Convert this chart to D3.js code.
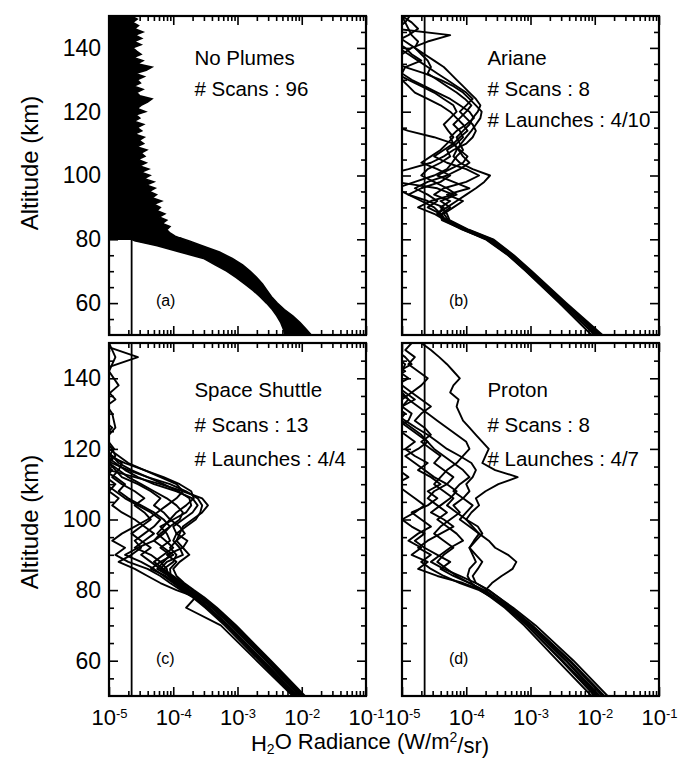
<!DOCTYPE html>
<html><head><meta charset="utf-8">
<script src="https://cdn.jsdelivr.net/npm/d3@7"></script>
<style>
html,body{margin:0;padding:0;background:#fff;}
svg text{font-family:"Liberation Sans",Arial,Helvetica,sans-serif;fill:#000;}
</style></head><body>
<svg id="chart" width="680" height="761"></svg>
<script>
// ---------------- data ----------------
const xTickExponents = [-5, -4, -3, -2, -1];          // tick labels 10^-5 ... 10^-1
const yTickLabels = [60, 80, 100, 120, 140];
const noiseLevel = 2.25e-5;                              // vertical reference line (W/m2/sr)
const panelNames = ["No Plumes", "Ariane", "Space Shuttle", "Proton"];
const panelScans = ["# Scans : 96", "# Scans : 8", "# Scans : 13", "# Scans : 8"];
const panelLaunches = [null, "# Launches : 4/10", "# Launches : 4/4", "# Launches : 4/7"];
const panelTags = ["(a)", "(b)", "(c)", "(d)"];

// all radiance values below are log10(W/m2/sr)
// (a) No plumes: envelope of the 96 scans
const noPlumeBandAlt  = [50, 52, 54, 56, 58, 60, 62, 64, 66, 68, 70, 72, 74, 76, 78, 79.5, 80.5];
const noPlumeBandLow  = [-2.26, -2.29, -2.33, -2.39, -2.46, -2.55, -2.65, -2.76, -2.89, -3.02, -3.17, -3.35, -3.53, -3.9, -4.25, -4.6, -4.7];
const noPlumeBandHigh = [-1.85, -1.94, -2.03, -2.14, -2.27, -2.38, -2.47, -2.54, -2.61, -2.7, -2.8, -2.92, -3.08, -3.28, -3.55, -3.75, -3.9];
const noPlumeTopAlt = [80, 81, 82, 83, 84, 85, 86, 87, 88, 89, 90, 91, 92, 93, 94, 95, 96, 97, 98, 99,
  100, 101, 102, 103, 104, 105, 106, 107, 108, 109, 110, 111, 112, 113, 114, 115, 116, 117, 118, 119,
  120, 121, 122, 123, 124, 125, 126, 127, 128, 129, 130, 131, 132, 133, 134, 135, 136, 137, 138, 139,
  140, 141, 142, 143, 144, 145, 146, 147, 148, 149, 150];
const noPlumeTopEdge = [-3.85, -3.97, -4.05, -4.1, -4.05, -4.17, -4.1, -4.22, -4.13, -4.25,
  -4.2, -4.3, -4.18, -4.33, -4.26, -4.37, -4.28, -4.42, -4.3, -4.45,
  -4.36, -4.5, -4.38, -4.52, -4.42, -4.55, -4.44, -4.5, -4.41, -4.57,
  -4.46, -4.53, -4.45, -4.6, -4.49, -4.56, -4.46, -4.61, -4.52, -4.58,
  -4.43, -4.56, -4.5, -4.4, -4.33, -4.52, -4.57, -4.47, -4.61, -4.51,
  -4.56, -4.45, -4.59, -4.42, -4.33, -4.56, -4.47, -4.62, -4.5, -4.57,
  -4.63, -4.5, -4.61, -4.49, -4.59, -4.47, -4.6, -4.54, -4.63, -4.56, -4.65];

// (b) Ariane
const arianeAlt = [50, 60, 70, 75, 80, 83, 86, 88, 90, 92, 94, 96, 98, 100, 102, 104, 106, 108, 110, 112, 114, 116, 118,
  120, 122, 124, 126, 128, 130, 132, 134, 136, 138, 140, 142, 144, 146, 148, 150];
const arianeScans = [
  [-1.9, -2.46, -3.0, -3.27, -3.6, -3.98, -4.3, -4.45, -4.3, -4.15, -4.0, -3.85, -3.72, -3.63, -3.9, -4.1, -4.2, -4.15, -4.08, -4.0, -3.92, -3.85, -3.78, -3.76, -3.85, -3.95, -4.05, -4.2, -4.4, -4.65, -4.95, -5.2, -5.3, -5.3, -5.2, -5.3, -5.2, -5.3, -5.3],
  [-2.05, -2.55, -3.07, -3.35, -3.7, -4.05, -4.38, -4.4, -4.5, -4.7, -4.9, -5.1, -4.8, -4.5, -4.3, -4.22, -4.15, -4.05, -4.1, -4.15, -4.05, -3.95, -3.9, -3.82, -3.78, -3.85, -3.95, -4.05, -4.15, -4.25, -4.35, -4.5, -4.65, -4.8, -4.95, -5.1, -5.2, -5.25, -5.3],
  [-1.95, -2.48, -3.02, -3.3, -3.62, -4.0, -4.28, -4.35, -4.2, -4.05, -4.3, -3.95, -4.2, -4.45, -4.25, -4.05, -3.98, -4.1, -4.2, -4.1, -3.98, -4.05, -4.15, -4.25, -4.4, -4.6, -4.8, -4.9, -5.0, -5.2, -5.3, -5.2, -5.0, -4.85, -4.6, -4.25, -5.1, -4.95, -5.0],
  [-1.92, -2.5, -3.04, -3.32, -3.66, -4.03, -4.33, -4.5, -4.75, -4.55, -4.2, -4.45, -5.1, -5.3, -4.9, -4.55, -4.35, -4.2, -4.0, -3.9, -3.85, -3.9, -4.0, -4.1, -4.0, -3.9, -4.0, -4.15, -4.3, -4.45, -4.6, -4.75, -4.9, -5.05, -5.2, -5.3, -5.3, -5.2, -5.3],
  [-1.88, -2.44, -2.98, -3.26, -3.58, -3.96, -4.26, -4.3, -4.4, -4.25, -4.5, -4.35, -4.0, -3.8, -4.0, -4.3, -4.5, -4.35, -4.2, -4.25, -4.15, -4.0, -3.88, -3.95, -4.1, -4.25, -4.45, -4.65, -4.85, -5.0, -4.95, -4.7, -4.85, -4.95, -5.1, -4.9, -4.75, -4.85, -5.0],
  [-2.0, -2.52, -3.05, -3.33, -3.68, -4.06, -4.35, -4.4, -4.6, -4.45, -4.6, -4.8, -4.6, -4.3, -4.1, -3.95, -4.05, -4.12, -4.2, -4.5, -4.9, -5.2, -5.3, -5.2, -5.3, -5.25, -5.3, -5.2, -5.3, -5.3, -5.2, -5.3, -5.3, -5.25, -5.3, -5.3, -5.2, -5.3, -5.3],
  [-1.98, -2.53, -3.06, -3.34, -3.68, -4.02, -4.34, -4.38, -4.25, -4.4, -4.15, -4.3, -4.5, -4.7, -4.6, -4.4, -4.25, -4.3, -4.15, -4.05, -4.1, -4.2, -4.1, -4.0, -3.92, -4.02, -4.15, -4.3, -4.45, -4.6, -4.55, -4.6, -4.7, -4.8, -4.75, -4.85, -4.9, -4.95, -4.88],
  [-1.94, -2.47, -3.01, -3.29, -3.64, -4.0, -4.31, -4.45, -4.35, -4.6, -4.9, -4.7, -4.4, -4.25, -4.45, -4.7, -4.55, -4.4, -4.3, -4.2, -4.28, -4.35, -4.25, -4.15, -4.2, -4.35, -4.5, -4.7, -4.9, -5.1, -5.2, -5.3, -5.3, -5.2, -5.3, -5.3, -5.3, -5.2, -5.3]
];

// (c) Space Shuttle
const shuttleAlt = [50, 60, 70, 75, 78, 80, 82, 84, 86, 88, 90, 92, 94, 96, 98, 100, 102, 104, 106, 108, 110, 112, 114, 116, 118,
  120, 123, 126, 130, 134, 138, 142, 146, 150];
const shuttleScans = [
  [-1.97, -2.5, -3.04, -3.35, -3.55, -3.7, -3.85, -4.0, -4.15, -4.0, -3.95, -4.05, -3.95, -3.9, -3.85, -3.7, -3.55, -3.46, -3.55, -3.85, -4.2, -4.6, -5.0, -5.3, -5.3, -5.3, -5.3, -5.3, -5.3, -5.3, -5.3, -5.3, -5.3, -5.3],
  [-2.0, -2.53, -3.07, -3.38, -3.58, -3.74, -3.88, -4.02, -4.2, -4.1, -3.85, -3.9, -4.0, -3.95, -3.8, -3.65, -3.58, -3.55, -3.62, -3.8, -4.05, -4.4, -4.7, -4.95, -5.2, -5.3, -5.3, -5.3, -5.3, -5.3, -5.3, -5.3, -5.3, -5.3],
  [-2.03, -2.56, -3.1, -3.4, -3.6, -3.76, -3.9, -4.04, -4.05, -3.95, -4.1, -3.85, -3.78, -3.95, -4.0, -3.85, -3.7, -3.62, -3.7, -3.95, -4.3, -4.55, -4.75, -4.9, -5.05, -5.3, -5.3, -5.3, -5.3, -5.3, -5.3, -5.3, -5.3, -5.3],
  [-2.06, -2.6, -3.14, -3.44, -3.64, -3.8, -3.95, -4.07, -4.25, -4.15, -4.05, -4.2, -4.05, -4.1, -4.2, -4.0, -3.8, -3.72, -3.75, -3.92, -4.15, -4.4, -4.65, -4.85, -4.95, -5.1, -5.3, -5.3, -5.3, -5.3, -5.3, -5.3, -5.3, -5.3],
  [-2.1, -2.63, -3.17, -3.47, -3.68, -3.85, -4.0, -4.15, -4.3, -4.5, -4.75, -4.55, -4.3, -4.15, -4.05, -3.9, -3.85, -3.95, -4.1, -4.3, -4.5, -4.7, -4.85, -4.8, -4.95, -5.3, -5.3, -5.3, -5.3, -5.3, -5.3, -5.3, -5.3, -5.3],
  [-2.08, -2.61, -3.15, -3.45, -3.65, -3.82, -3.96, -4.08, -4.1, -4.2, -4.0, -4.15, -4.3, -4.2, -4.05, -4.15, -4.3, -4.5, -4.7, -4.85, -4.75, -4.9, -5.1, -5.3, -5.3, -5.3, -5.3, -5.3, -5.3, -5.3, -5.3, -5.3, -5.3, -5.3],
  [-2.12, -2.66, -3.2, -3.5, -3.7, -3.88, -4.05, -4.2, -4.4, -4.7, -4.9, -4.75, -4.95, -4.8, -4.6, -4.4, -4.25, -4.1, -3.95, -3.85, -3.95, -4.2, -4.45, -4.7, -4.85, -5.0, -5.3, -5.3, -5.3, -5.3, -5.3, -5.3, -5.3, -5.3],
  [-2.02, -2.55, -3.09, -3.39, -3.6, -3.77, -3.92, -4.06, -4.15, -4.3, -4.15, -4.0, -4.12, -4.25, -4.15, -4.05, -4.15, -4.3, -4.2, -4.35, -4.55, -4.8, -4.9, -5.0, -4.95, -5.1, -5.3, -5.3, -5.3, -5.3, -5.3, -5.3, -5.3, -5.3],
  [-1.95, -2.48, -3.02, -3.32, -3.52, -3.68, -3.83, -3.95, -4.0, -3.9, -3.75, -3.85, -3.95, -3.82, -3.9, -4.05, -3.95, -3.8, -3.68, -3.72, -3.9, -4.15, -4.45, -4.75, -5.0, -5.3, -5.3, -5.3, -5.3, -5.3, -5.3, -5.3, -5.3, -5.3],
  [-2.14, -2.7, -3.26, -3.8, -3.65, -3.95, -4.2, -4.4, -4.6, -4.85, -4.65, -4.5, -4.6, -4.45, -4.3, -4.2, -4.35, -4.55, -4.75, -4.9, -5.05, -5.3, -5.3, -5.3, -5.3, -5.3, -5.3, -5.3, -5.3, -5.3, -5.3, -5.3, -5.3, -5.3],
  [-2.0, -2.54, -3.08, -3.38, -3.58, -3.75, -3.9, -4.05, -4.2, -4.35, -4.5, -4.35, -4.5, -4.65, -4.5, -4.35, -4.45, -4.6, -4.45, -4.6, -4.8, -4.95, -4.85, -5.0, -4.9, -4.95, -5.1, -4.95, -5.2, -4.9, -5.1, -5.2, -4.55, -5.2],
  [-2.09, -2.62, -3.16, -3.46, -3.66, -3.83, -3.98, -4.12, -4.35, -4.2, -4.35, -4.6, -4.45, -4.3, -4.45, -4.6, -4.8, -4.95, -4.85, -5.0, -4.9, -5.05, -4.95, -5.1, -5.0, -4.92, -5.05, -4.9, -4.95, -5.1, -4.85, -5.0, -4.9, -5.0]
];

// (d) Proton
const protonAlt = [50, 60, 70, 75, 78, 80, 82, 84, 86, 88, 90, 92, 94, 96, 98, 100, 102, 104, 106, 108, 110, 112, 114, 116, 118,
  120, 122, 124, 126, 128, 130, 132, 134, 136, 138, 140, 142, 144, 146, 148, 150];
const protonScans = [
  [-1.85, -2.38, -2.97, -3.3, -3.5, -3.65, -3.85, -3.9, -3.82, -3.75, -3.85, -3.95, -3.88, -3.8, -3.9, -4.0, -3.92, -3.8, -3.85, -3.7, -3.5, -3.2, -3.55, -3.75, -3.7, -3.65, -3.75, -3.85, -3.95, -4.05, -4.1, -4.15, -4.12, -4.25, -4.2, -4.1, -4.2, -4.3, -4.42, -4.55, -4.7],
  [-1.95, -2.45, -3.02, -3.35, -3.58, -3.7, -3.6, -3.45, -3.28, -3.22, -3.35, -3.55, -3.65, -3.8, -3.95, -4.1, -4.0, -3.9, -4.05, -4.2, -4.1, -3.95, -4.05, -4.2, -4.35, -4.5, -4.6, -4.7, -4.85, -5.0, -5.1, -5.0, -4.9, -5.0, -5.1, -5.2, -5.0, -4.95, -5.1, -5.2, -5.3],
  [-2.05, -2.58, -3.1, -3.4, -3.62, -3.78, -3.92, -3.98, -3.95, -3.85, -3.9, -3.95, -3.85, -3.75, -3.82, -4.0, -4.15, -4.3, -4.2, -4.35, -4.5, -4.4, -4.3, -4.15, -4.05, -3.95, -4.0, -4.15, -4.3, -4.45, -4.6, -4.75, -4.9, -5.05, -5.2, -5.3, -5.3, -5.3, -5.3, -5.3, -5.3],
  [-1.88, -2.4, -2.98, -3.32, -3.55, -3.72, -3.95, -4.15, -4.3, -4.45, -4.35, -4.2, -4.35, -4.5, -4.4, -4.25, -4.1, -4.2, -4.05, -3.95, -4.0, -3.9, -3.85, -3.92, -4.1, -4.3, -4.45, -4.6, -4.78, -4.95, -5.1, -5.3, -5.3, -5.3, -5.3, -5.3, -5.3, -5.3, -5.3, -5.3, -5.3],
  [-1.92, -2.44, -3.0, -3.33, -3.57, -3.75, -4.05, -4.45, -4.75, -4.6, -4.85, -4.7, -4.9, -4.75, -4.55, -4.7, -4.85, -4.6, -4.45, -4.6, -4.4, -4.55, -4.75, -4.6, -4.8, -4.95, -4.8, -4.95, -5.1, -4.9, -4.85, -5.0, -4.8, -4.95, -5.1, -4.9, -5.05, -4.85, -4.95, -5.1, -5.0],
  [-1.8, -2.33, -2.92, -3.27, -3.5, -3.66, -3.85, -4.1, -4.35, -4.55, -4.4, -4.25, -4.05, -4.15, -4.3, -4.45, -4.3, -4.45, -4.6, -4.5, -4.3, -4.2, -4.35, -4.5, -4.4, -4.55, -4.7, -4.55, -4.65, -4.8, -4.7, -4.55, -4.7, -4.85, -4.7, -4.6, -4.75, -4.9, -4.8, -4.95, -4.85],
  [-1.97, -2.5, -3.05, -3.38, -3.6, -3.8, -4.1, -4.35, -4.55, -4.7, -4.55, -4.75, -4.6, -4.4, -4.2, -4.35, -4.55, -4.4, -4.25, -4.15, -4.3, -4.5, -4.65, -4.8, -4.95, -4.75, -4.6, -4.75, -4.9, -5.05, -4.95, -5.1, -5.0, -4.85, -5.0, -5.15, -4.95, -5.1, -5.25, -5.0, -5.1],
  [-2.0, -2.52, -3.06, -3.36, -3.6, -3.75, -3.95, -4.2, -4.4, -4.25, -4.45, -4.65, -4.8, -4.65, -4.85, -5.0, -4.8, -4.65, -4.8, -4.95, -5.1, -4.9, -5.05, -5.2, -5.0, -5.15, -5.3, -5.3, -5.2, -5.3, -5.3, -5.2, -5.3, -5.3, -5.3, -5.3, -5.3, -5.3, -5.3, -5.3, -5.3]
];

// ---------------- layout ----------------
const colX = [[109, 366], [402, 659]];
const rowY = [[16, 335], [343, 696]];
const yTitleY = [163, 522];
const textAlts = [134.6, 124.9, 115.2];   // where the annotation lines sit
const textLog = -3.67;
const tagAlt = 59, tagLog = -4.27;

const svg = d3.select("#chart");
const defs = svg.append("defs");

const panels = [
  {col: 0, row: 0, type: "band"},
  {col: 1, row: 0, type: "lines", alt: arianeAlt, scans: arianeScans},
  {col: 0, row: 1, type: "lines", alt: shuttleAlt, scans: shuttleScans},
  {col: 1, row: 1, type: "lines", alt: protonAlt, scans: protonScans}
];

panels.forEach((p, i) => {
  const [xl, xr] = colX[p.col];
  const [yt, yb] = rowY[p.row];
  const x = d3.scaleLog().domain([1e-5, 1e-1]).range([xl, xr]);
  const y = d3.scaleLinear().domain([50, 150]).range([yb, yt]);
  const X = e => x(Math.pow(10, e));
  const g = svg.append("g");
  const clipId = "clip" + i;
  defs.append("clipPath").attr("id", clipId).append("rect")
    .attr("x", xl).attr("y", yt).attr("width", xr - xl).attr("height", yb - yt);
  const plot = g.append("g").attr("clip-path", `url(#${clipId})`);

  if (p.type === "band") {
    const band = d3.area().y(d => y(d[0])).x0(d => X(d[1])).x1(d => X(d[2]));
    plot.append("path").datum(d3.zip(noPlumeBandAlt, noPlumeBandLow, noPlumeBandHigh))
      .attr("d", band).attr("fill", "#000").attr("stroke", "#000").attr("stroke-width", 1.5);
    const top = d3.area().y(d => y(d[0])).x0(xl - 3).x1(d => X(d[1]));
    plot.append("path").datum(d3.zip(noPlumeTopAlt, noPlumeTopEdge))
      .attr("d", top).attr("fill", "#000").attr("stroke", "#000").attr("stroke-width", 1.5);
  } else {
    const line = d3.line().x(d => X(d[1])).y(d => y(d[0]));
    p.scans.forEach(s => {
      plot.append("path").datum(d3.zip(p.alt, s)).attr("d", line)
        .attr("fill", "none").attr("stroke", "#000").attr("stroke-width", 1.9)
        .attr("stroke-linejoin", "round");
    });
  }

  // noise level line
  g.append("line").attr("x1", x(noiseLevel)).attr("x2", x(noiseLevel))
    .attr("y1", yt).attr("y2", yb).attr("stroke", "#000").attr("stroke-width", 1.8);

  // axes (ticks inward)
  const xMajors = xTickExponents.map(e => Math.pow(10, e));
  const xMinors = x.ticks().filter(v => !xMajors.some(m => Math.abs(m - v) / m < 1e-6));
  const yMinors = y.ticks(20).filter(v => !yTickLabels.includes(v) && v > 50 && v < 150);
  const clean = s => s.call(a => a.select(".domain").remove())
    .attr("font-family", null).attr("font-size", null)
    .selectAll("line").attr("stroke", "#000").attr("stroke-width", 1.6);

  // bottom
  const bottomMajor = g.append("g").attr("transform", `translate(0,${yb})`)
    .call(d3.axisBottom(x).tickValues(xMajors).tickSize(-9).tickPadding(13)
      .tickFormat(p.row === 1 ? () => "10" : () => ""));
  clean(bottomMajor);
  if (p.row === 1) {
    bottomMajor.selectAll(".tick text").attr("font-size", "22px")
      .each(function (d) {
        d3.select(this).append("tspan").attr("dy", "-0.5em").attr("font-size", "13px")
          .text("-" + Math.abs(Math.round(Math.log10(d))));
      });
  }
  clean(g.append("g").attr("transform", `translate(0,${yb})`)
    .call(d3.axisBottom(x).tickValues(xMinors).tickSize(-5).tickFormat("")));
  // top
  clean(g.append("g").attr("transform", `translate(0,${yt})`)
    .call(d3.axisTop(x).tickValues(xMajors).tickSize(-9).tickFormat("")));
  clean(g.append("g").attr("transform", `translate(0,${yt})`)
    .call(d3.axisTop(x).tickValues(xMinors).tickSize(-5).tickFormat("")));
  // left
  const leftMajor = g.append("g").attr("transform", `translate(${xl},0)`)
    .call(d3.axisLeft(y).tickValues(yTickLabels).tickSize(-9).tickPadding(8)
      .tickFormat(p.col === 0 ? d => d : () => ""));
  clean(leftMajor);
  leftMajor.selectAll(".tick text").attr("font-size", "23px");
  clean(g.append("g").attr("transform", `translate(${xl},0)`)
    .call(d3.axisLeft(y).tickValues(yMinors).tickSize(-5).tickFormat("")));
  // right
  clean(g.append("g").attr("transform", `translate(${xr},0)`)
    .call(d3.axisRight(y).tickValues(yTickLabels).tickSize(-9).tickFormat("")));
  clean(g.append("g").attr("transform", `translate(${xr},0)`)
    .call(d3.axisRight(y).tickValues(yMinors).tickSize(-5).tickFormat("")));

  // frame
  g.append("rect").attr("x", xl).attr("y", yt).attr("width", xr - xl).attr("height", yb - yt)
    .attr("fill", "none").attr("stroke", "#000").attr("stroke-width", 2.2);

  // annotations
  const lines = [panelNames[i], panelScans[i], panelLaunches[i]].filter(t => t);
  lines.forEach((t, k) => {
    g.append("text").attr("x", X(textLog)).attr("y", y(textAlts[k]))
      .attr("font-size", "20.5px").text(t);
  });
  g.append("text").attr("x", X(tagLog)).attr("y", y(tagAlt))
    .attr("font-size", "16px").text(panelTags[i]);
});

// axis titles
[0, 1].forEach(r => {
  svg.append("text").attr("transform", `translate(38,${yTitleY[r]}) rotate(-90)`)
    .attr("text-anchor", "middle").attr("font-size", "24px").text("Altitude (km)");
});
const xt = svg.append("text").attr("x", 370).attr("y", 751).attr("text-anchor", "middle")
  .attr("font-size", "22px");
xt.append("tspan").text("H");
xt.append("tspan").attr("font-size", "14px").attr("dy", "0.2em").text("2");
xt.append("tspan").attr("dy", "-0.2em").text("O Radiance (W/m");
xt.append("tspan").attr("font-size", "14px").attr("dy", "-0.5em").text("2");
xt.append("tspan").attr("dy", "0.5em").text("/sr)");
</script>
</body></html>
